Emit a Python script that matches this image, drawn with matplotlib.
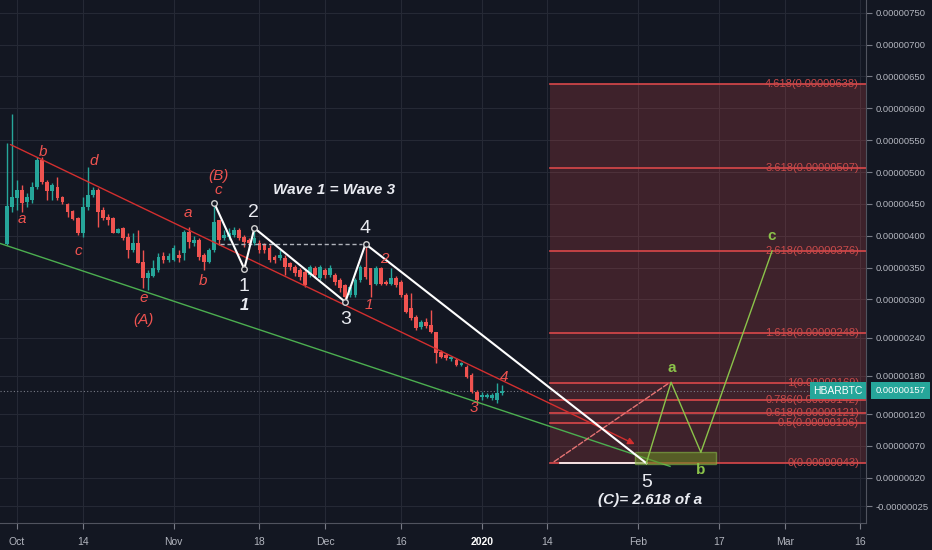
import numpy as np
import matplotlib.pyplot as plt
from matplotlib.patches import Rectangle
from matplotlib.transforms import blended_transform_factory

plt.rcParams['font.family'] = ['Liberation Sans', 'DejaVu Sans']

# x = days since 2019-10-01, prices in units of 1e-8 BTC (satoshi)
days = list(range(-2, 97))
opens = [387, 445, 459, 472, 453, 456, 476, 519, 484, 470, 476, 461, 450, 439, 428, 404, 445, 464, 472, 440,
         429, 428, 405, 412, 398, 377, 388, 359, 333, 337, 346, 368, 362, 362, 369, 373, 406, 388, 393, 369,
         359, 377, 424, 396, 398, 401, 409, 398, 393, 388, 388, 385, 381, 366, 365, 365, 357, 351, 346, 343,
         338, 349, 333, 346, 338, 338, 330, 322, 307, 307, 330, 351, 349, 325, 349, 327, 325, 333, 327, 307,
         286, 272, 257, 264, 260, 249, 217, 213, 206, 205, 197, 194, 181, 154, 147, 147, 145, 142, 153]
highs = [545, 591, 487, 479, 467, 484, 523, 523, 487, 482, 492, 462, 451, 440, 429, 461, 508, 476, 475, 445,
         434, 429, 412, 413, 404, 404, 409, 377, 346, 362, 373, 374, 373, 385, 377, 409, 413, 399, 396, 373,
         381, 453, 424, 409, 412, 413, 412, 401, 396, 412, 393, 388, 385, 369, 377, 369, 359, 354, 349, 346,
         354, 352, 354, 349, 354, 341, 333, 325, 322, 333, 354, 387, 349, 352, 351, 330, 349, 337, 330, 310,
         310, 275, 268, 271, 283, 249, 220, 216, 211, 208, 202, 197, 184, 158, 154, 153, 153, 169, 166]
lows = [385, 437, 440, 437, 445, 451, 473, 481, 456, 456, 456, 450, 429, 424, 401, 398, 440, 461, 413, 424,
        417, 404, 404, 393, 365, 374, 357, 318, 315, 335, 343, 357, 359, 360, 359, 362, 381, 384, 362, 346,
        357, 374, 385, 393, 393, 398, 393, 382, 385, 385, 373, 373, 359, 357, 362, 338, 346, 337, 330, 319,
        335, 333, 330, 333, 335, 322, 311, 296, 304, 304, 327, 332, 304, 322, 322, 322, 322, 319, 304, 278,
        268, 252, 253, 255, 247, 200, 208, 205, 203, 195, 195, 176, 153, 139, 142, 145, 142, 137, 150]
closes = [446, 461, 472, 451, 461, 476, 519, 484, 470, 479, 459, 453, 437, 426, 404, 445, 464, 472, 437, 428,
          424, 405, 410, 396, 377, 388, 357, 333, 341, 349, 366, 362, 368, 381, 365, 406, 390, 393, 366, 359,
          377, 421, 393, 401, 405, 409, 396, 390, 388, 396, 377, 377, 362, 362, 369, 351, 351, 341, 335, 322,
          351, 338, 351, 338, 349, 327, 318, 304, 319, 330, 351, 335, 322, 349, 325, 324, 333, 322, 307, 280,
          271, 255, 264, 258, 249, 216, 209, 208, 209, 197, 200, 178, 154, 142, 150, 150, 150, 153, 157]
last_price = 157

# Elliott wave path (white) and projection (green)
wave_x = [39, 45, 47, 65, 69, 124.6]
wave_y = [452, 348, 412, 296, 387, 43]
proj_x = [124.6, 129.5, 135.4, 149.5]
proj_y = [43, 170, 60, 376]

# channel lines
upper_x, upper_y = [-1.8, 122.8], [545, 71]
lower_x, lower_y = [-3.4, 129.3], [388, 38]

# fib extension
fib_start = 105.5
fib_levels = [0, 0.5, 0.618, 0.786, 1, 1.618, 2.618, 3.618, 4.618]
fib_prices = [43, 106, 121, 142, 169, 248, 376, 507, 638]

price_ticks = [750, 700, 650, 600, 550, 500, 450, 400, 350, 300, 240, 180, 120, 70, 20, -25]
date_ticks = [0, 13, 31, 48, 61, 76, 92, 105, 123, 139, 152, 167]
date_labels = ['Oct', '14', 'Nov', '18', 'Dec', '16', '2020', '14', 'Feb', '17', 'Mar', '16']

BG = '#131722'
GREEN = '#26a69a'
RED = '#ef5350'
TXT = '#b2b5be'
WHITE = '#e8eaf0'
LIME = '#8bc34a'

fig = plt.figure(figsize=(9.32, 5.5), dpi=100, facecolor=BG)
ax = fig.add_axes([0, 0.049, 0.9292, 0.951], facecolor=BG)
ax.set_xlim(-3.37, 168.1)
ax.set_ylim(-51, 770)

# grid
for t in date_ticks:
    ax.axvline(t, color='#252935', lw=0.8, zorder=0)
for p in price_ticks:
    ax.axhline(p, color='#252935', lw=0.8, zorder=0)

# fib extension box
ax.add_patch(Rectangle((fib_start, fib_prices[0]), 200, fib_prices[-1] - fib_prices[0],
                       facecolor=RED, alpha=0.2, lw=0, zorder=1))
lab_tr = blended_transform_factory(ax.transAxes, ax.transData)
for lv, fp in zip(fib_levels, fib_prices):
    ax.plot([fib_start, 200], [fp, fp], color='#d9484a', lw=1.2, zorder=2)
    ax.text(0.992, fp, f'{lv:g}({fp * 1e-8:.8f})', transform=lab_tr, ha='right', va='center',
            color='#c94a4a', fontsize=8, zorder=3)

# current price line
ax.axhline(last_price, color='#787b86', lw=0.8, ls=(0, (1, 2)), zorder=2)

# candles
days_a = np.array(days)
o, h, l, c = map(np.array, (opens, highs, lows, closes))
cols = np.where(c >= o, GREEN, RED)
ax.vlines(days_a, l, h, colors=cols, lw=1.0, zorder=4)
ax.bar(days_a, np.maximum(np.abs(c - o), 1.5), bottom=np.minimum(o, c), width=0.75,
       color=cols, lw=0, zorder=5)

# channel lines
ax.annotate('', xy=(upper_x[1], upper_y[1]), xytext=(upper_x[0], upper_y[0]),
            arrowprops=dict(arrowstyle='-|>', color='#d32f2f', lw=1.0, mutation_scale=10), zorder=6)
ax.plot(lower_x, lower_y, color='#4caf50', lw=1.0, zorder=6)

# wave path
ax.plot(wave_x, wave_y, color='white', lw=1.5, zorder=7)
ax.plot(wave_x[:5], wave_y[:5], 'o', ms=4, mfc=BG, mec='#d0d0d0', mew=1, zorder=8)
ax.plot([40.2, 68.3], [387, 387], color='#b0b3bb', lw=1.0, ls=(0, (3, 2)), zorder=6)
ax.plot([107.5, 124.6], [43, 43], color='white', lw=1.2, zorder=6)

# dashed fib trendline and projection
ax.annotate('', xy=(129.3, 170), xytext=(105.9, 43),
            arrowprops=dict(arrowstyle='-', color='#e57373', lw=1.0, ls='--'), zorder=6)
ax.add_patch(Rectangle((122.4, 41), 16, 19, facecolor='#6b8e23', alpha=0.55,
                       edgecolor=LIME, lw=1.0, zorder=6))
ax.plot(proj_x, proj_y, color=LIME, lw=1.0, zorder=7)

# labels
red_lbl = [('a', 1.0, 426), ('b', 5.1, 531), ('c', 12.1, 376), ('d', 15.2, 517), ('e', 25, 302),
           ('(A)', 25, 267), ('a', 33.9, 435), ('b', 36.8, 329), ('c', 39.8, 472), ('(B)', 39.8, 494),
           ('1', 69.7, 291), ('2', 72.7, 363), ('3', 90.5, 129), ('4', 96.4, 178)]
for s, x, y in red_lbl:
    ax.text(x, y, s, color=RED, fontsize=11, style='italic', ha='center', va='center', zorder=9)

white_lbl = [('1', 45, 321), ('2', 46.9, 437), ('3', 65, 268), ('4', 68.9, 412), ('5', 124.6, 13)]
for s, x, y in white_lbl:
    ax.text(x, y, s, color=WHITE, fontsize=14, ha='center', va='center', zorder=9)
ax.text(45, 291, '1', color=WHITE, fontsize=12, style='italic', weight='bold',
        ha='center', va='center', zorder=9)
ax.text(62.8, 472, 'Wave 1 = Wave 3', color=WHITE, fontsize=11, style='italic', weight='bold',
        ha='center', va='center', zorder=9)
ax.text(125.3, -15, '(C)= 2.618 of a', color=WHITE, fontsize=11, style='italic', weight='bold',
        ha='center', va='center', zorder=9)

for s, x, y in [('a', 129.7, 192), ('b', 135.4, 33), ('c', 149.5, 399)]:
    ax.text(x, y, s, color=LIME, fontsize=11, weight='bold', ha='center', va='center', zorder=9)

# price tags
ax.text(0.996, last_price, 'HBARBTC', transform=lab_tr, ha='right', va='center', color='white',
        fontsize=7.5, zorder=10,
        bbox=dict(boxstyle='square,pad=0.3', facecolor=GREEN, edgecolor='none'))
ax.text(1.011, last_price, f'{last_price * 1e-8:.8f}', transform=lab_tr, ha='left', va='center',
        color='white', fontsize=6.8, zorder=10, clip_on=False,
        bbox=dict(boxstyle='square,pad=0.45', facecolor=GREEN, edgecolor='none'))

# axes styling
ax.yaxis.tick_right()
ax.set_yticks(price_ticks)
ax.set_yticklabels([f'{p * 1e-8:.8f}' for p in price_ticks])
ax.set_xticks(date_ticks)
ax.set_xticklabels(date_labels)
ax.tick_params(axis='y', colors='#787b86', labelcolor=TXT, labelsize=6.8, length=4, pad=3)
ax.tick_params(axis='x', colors='#787b86', labelcolor=TXT, labelsize=7.5, length=4, pad=6)
for lbl in ax.get_xticklabels():
    if lbl.get_text() == '2020':
        lbl.set_color('white')
        lbl.set_weight('bold')
for side in ('left', 'top'):
    ax.spines[side].set_visible(False)
for side in ('right', 'bottom'):
    ax.spines[side].set_color('#50535e')

fig.savefig('out.png', dpi=100, facecolor=BG)
